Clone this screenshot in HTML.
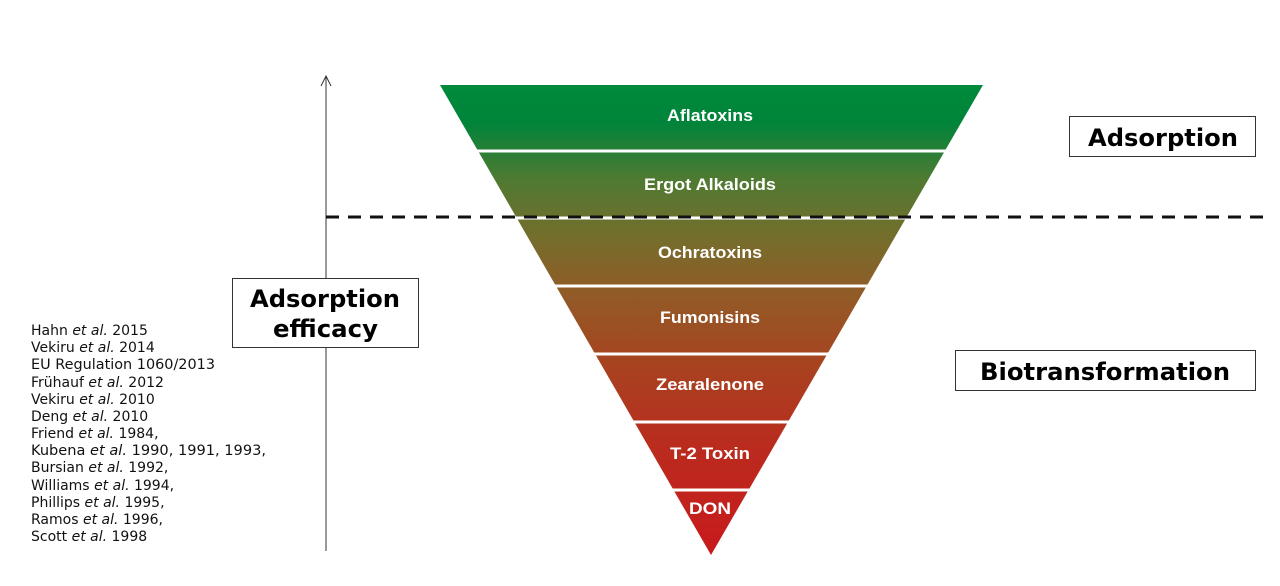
<!DOCTYPE html>
<html><head><meta charset="utf-8"><style>
html,body{margin:0;padding:0;background:#fff;}
svg{display:block}
.cit{font-family:"DejaVu Sans",Verdana,sans-serif;font-size:14px;fill:#111}
.lab{font-family:"Liberation Sans",Arial,sans-serif;font-weight:bold;font-size:17px;fill:#fff}
.box{font-family:"DejaVu Sans",Verdana,sans-serif;font-weight:bold;font-size:24px;fill:#000}
</style></head><body>
<svg width="1280" height="586" viewBox="0 0 1280 586" xmlns="http://www.w3.org/2000/svg">
<defs>
<linearGradient id="g" x1="0" y1="85" x2="0" y2="555" gradientUnits="userSpaceOnUse">
<stop offset="0" stop-color="#008a3a"/>
<stop offset="0.08" stop-color="#00843a"/>
<stop offset="0.2" stop-color="#4f7a32"/>
<stop offset="0.32" stop-color="#736e2c"/>
<stop offset="0.45" stop-color="#925a26"/>
<stop offset="0.6" stop-color="#a84220"/>
<stop offset="0.78" stop-color="#bb2a1e"/>
<stop offset="1" stop-color="#c81a1c"/>
</linearGradient>
</defs>
<line x1="326" y1="76" x2="326" y2="551" stroke="#333" stroke-width="1"/>
<polyline points="321,86 326,76 331,86" fill="none" stroke="#333" stroke-width="1"/>
<polygon points="440,85 983,85 711,555" fill="url(#g)"/>
<g stroke="#fff" stroke-width="3">
<line x1="430" y1="151" x2="990" y2="151"/>
<line x1="430" y1="218" x2="990" y2="218"/>
<line x1="430" y1="286" x2="990" y2="286"/>
<line x1="430" y1="354" x2="990" y2="354"/>
<line x1="430" y1="422" x2="990" y2="422"/>
<line x1="430" y1="490" x2="990" y2="490"/>
</g>
<line x1="326" y1="217" x2="1265" y2="217" stroke="#111" stroke-width="3" stroke-dasharray="13,9"/>
<g class="lab" text-anchor="middle">
<text x="710" y="121" textLength="86" lengthAdjust="spacingAndGlyphs">Aflatoxins</text>
<text x="710" y="190" textLength="132" lengthAdjust="spacingAndGlyphs">Ergot Alkaloids</text>
<text x="710" y="258" textLength="104" lengthAdjust="spacingAndGlyphs">Ochratoxins</text>
<text x="710" y="323" textLength="100" lengthAdjust="spacingAndGlyphs">Fumonisins</text>
<text x="710" y="390" textLength="108" lengthAdjust="spacingAndGlyphs">Zearalenone</text>
<text x="710" y="459" textLength="80" lengthAdjust="spacingAndGlyphs">T-2 Toxin</text>
<text x="710" y="514" textLength="42" lengthAdjust="spacingAndGlyphs">DON</text>
</g>
<rect x="232.5" y="278.5" width="186" height="69" fill="#fff" stroke="#333" stroke-width="1"/>
<text class="box" x="250" y="307" textLength="150" lengthAdjust="spacingAndGlyphs">Adsorption</text>
<text class="box" x="273" y="337" textLength="105" lengthAdjust="spacingAndGlyphs">efficacy</text>
<rect x="1069.5" y="116.5" width="186" height="40" fill="#fff" stroke="#333" stroke-width="1"/>
<text class="box" x="1088" y="146" textLength="150" lengthAdjust="spacingAndGlyphs">Adsorption</text>
<rect x="955.5" y="350.5" width="300" height="40" fill="#fff" stroke="#333" stroke-width="1"/>
<text class="box" x="980" y="380" textLength="250" lengthAdjust="spacingAndGlyphs">Biotransformation</text>
<g class="cit">
<text x="31" y="335">Hahn <tspan font-style="italic">et al.</tspan> 2015</text>
<text x="31" y="352">Vekiru <tspan font-style="italic">et al.</tspan> 2014</text>
<text x="31" y="369" textLength="184" lengthAdjust="spacingAndGlyphs">EU Regulation 1060/2013</text>
<text x="31" y="387">Frühauf <tspan font-style="italic">et al.</tspan> 2012</text>
<text x="31" y="404">Vekiru <tspan font-style="italic">et al.</tspan> 2010</text>
<text x="31" y="421">Deng <tspan font-style="italic">et al.</tspan> 2010</text>
<text x="31" y="438">Friend <tspan font-style="italic">et al.</tspan> 1984,</text>
<text x="31" y="455" textLength="235" lengthAdjust="spacingAndGlyphs">Kubena <tspan font-style="italic">et al.</tspan> 1990, 1991, 1993,</text>
<text x="31" y="472">Bursian <tspan font-style="italic">et al.</tspan> 1992,</text>
<text x="31" y="490">Williams <tspan font-style="italic">et al.</tspan> 1994,</text>
<text x="31" y="507">Phillips <tspan font-style="italic">et al.</tspan> 1995,</text>
<text x="31" y="524">Ramos <tspan font-style="italic">et al.</tspan> 1996,</text>
<text x="31" y="541">Scott <tspan font-style="italic">et al.</tspan> 1998</text>
</g>
</svg>
</body></html>
